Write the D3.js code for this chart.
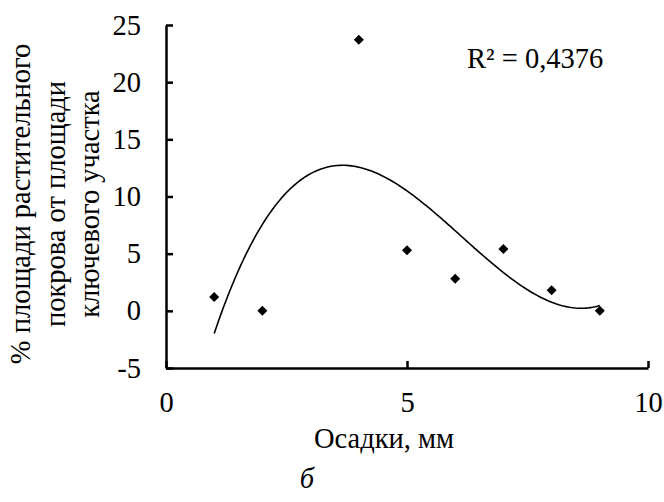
<!DOCTYPE html>
<html lang="ru">
<head>
<meta charset="utf-8">
<script src="https://d3js.org/d3.v7.min.js"></script>
<style>
  body { margin: 0; background: #fff; }
  svg text { font-family: "Times New Roman", "Liberation Serif", "DejaVu Serif", serif; fill: #000; }
</style>
</head>
<body>
<script>
// data
var precip = [1, 2, 4, 5, 6, 7, 8, 9];
var cover = [1.2, 0, 23.7, 5.3, 2.8, 5.4, 1.8, 0];
var xTicks = [0, 5, 10];
var yTicks = [-5, 0, 5, 10, 15, 20, 25];
var r2Label = "R² = 0,4376";
var xTitle = "Осадки, мм";
var yTitle = ["% площади растительного", "покрова от площади", "ключевого участка"];
var caption = "б";

var w = 664, h = 502;
var margin = {top: 25, right: 16, bottom: 134, left: 166};
var serif = '"Times New Roman", "Liberation Serif", "DejaVu Serif", serif';
var fs = 28.5;

var svg = d3.select("body").append("svg")
    .attr("width", w)
    .attr("height", h)
    .attr("font-family", serif);

var x = d3.scaleLinear().domain([0, 10]).range([margin.left, w - margin.right]);
var y = d3.scaleLinear().domain([-5, 25]).range([h - margin.bottom, margin.top]);

// least squares polynomial trend line (order 3)
function polyfit(xs, ys, order) {
  var n = order + 1;
  var A = [], b = [];
  for (var i = 0; i < n; i++) {
    A.push([]);
    for (var j = 0; j < n; j++) A[i].push(d3.sum(xs, function(v) { return Math.pow(v, i + j); }));
    b.push(d3.sum(xs, function(v, k) { return Math.pow(v, i) * ys[k]; }));
  }
  for (var c = 0; c < n; c++) {
    var p = c;
    for (var r = c + 1; r < n; r++) if (Math.abs(A[r][c]) > Math.abs(A[p][c])) p = r;
    var t = A[c]; A[c] = A[p]; A[p] = t;
    var tb = b[c]; b[c] = b[p]; b[p] = tb;
    for (var r = c + 1; r < n; r++) {
      var f = A[r][c] / A[c][c];
      for (var k = c; k < n; k++) A[r][k] -= f * A[c][k];
      b[r] -= f * b[c];
    }
  }
  var coef = new Array(n);
  for (var i = n - 1; i >= 0; i--) {
    var s = b[i];
    for (var k = i + 1; k < n; k++) s -= A[i][k] * coef[k];
    coef[i] = s / A[i][i];
  }
  return coef;
}
var coef = polyfit(precip, cover, 3);
function trend(v) { return d3.sum(coef, function(c, i) { return c * Math.pow(v, i); }); }

var curve = d3.range(1, 9.001, 0.05).map(function(v) { return [v, trend(v)]; });

svg.append("path")
    .datum(curve)
    .attr("fill", "none")
    .attr("stroke", "#000")
    .attr("stroke-width", 1.6)
    .attr("d", d3.line()
      .x(function(d) { return x(d[0]); })
      .y(function(d) { return y(d[1]); }));

// axes
var xAxis = svg.append("g")
    .attr("transform", "translate(0," + y(-5) + ")")
    .call(d3.axisBottom(x).tickValues(xTicks).tickFormat(String)
      .tickSizeInner(-7).tickSizeOuter(0).tickPadding(24));
var yAxis = svg.append("g")
    .attr("transform", "translate(" + x(0) + ",0)")
    .call(d3.axisLeft(y).tickValues(yTicks).tickFormat(String)
      .tickSizeInner(-7).tickSizeOuter(0).tickPadding(25));

[xAxis, yAxis].forEach(function(g) {
  g.attr("font-family", serif).attr("font-size", fs);
  g.select(".domain").attr("stroke", "#000").attr("stroke-width", 2.5);
  g.selectAll(".tick line").attr("stroke", "#000").attr("stroke-width", 2.5);
  g.selectAll(".tick text").attr("fill", "#000");
});

// points (diamonds)
svg.append("g").selectAll("path")
    .data(precip)
    .enter().append("path")
    .attr("d", d3.symbol().type(d3.symbolSquare).size(50))
    .attr("transform", function(d, i) { return "translate(" + x(d) + "," + y(cover[i]) + ") rotate(45)"; })
    .attr("fill", "#000");

// texts
svg.append("text")
    .attr("x", 467).attr("y", 68)
    .attr("font-size", fs)
    .text(r2Label);

svg.append("text")
    .attr("x", 384).attr("y", 448)
    .attr("text-anchor", "middle")
    .attr("font-size", fs)
    .text(xTitle);

svg.append("text")
    .attr("x", 307).attr("y", 488)
    .attr("text-anchor", "middle")
    .attr("font-size", fs)
    .attr("font-style", "italic")
    .text(caption);

var yt = svg.append("text")
    .attr("transform", "translate(30,204) rotate(-90)")
    .attr("text-anchor", "middle")
    .attr("font-size", fs);
yTitle.forEach(function(s, i) {
  yt.append("tspan").attr("x", 0).attr("dy", i === 0 ? 0 : 34.5).text(s);
});
</script>
</body>
</html>
